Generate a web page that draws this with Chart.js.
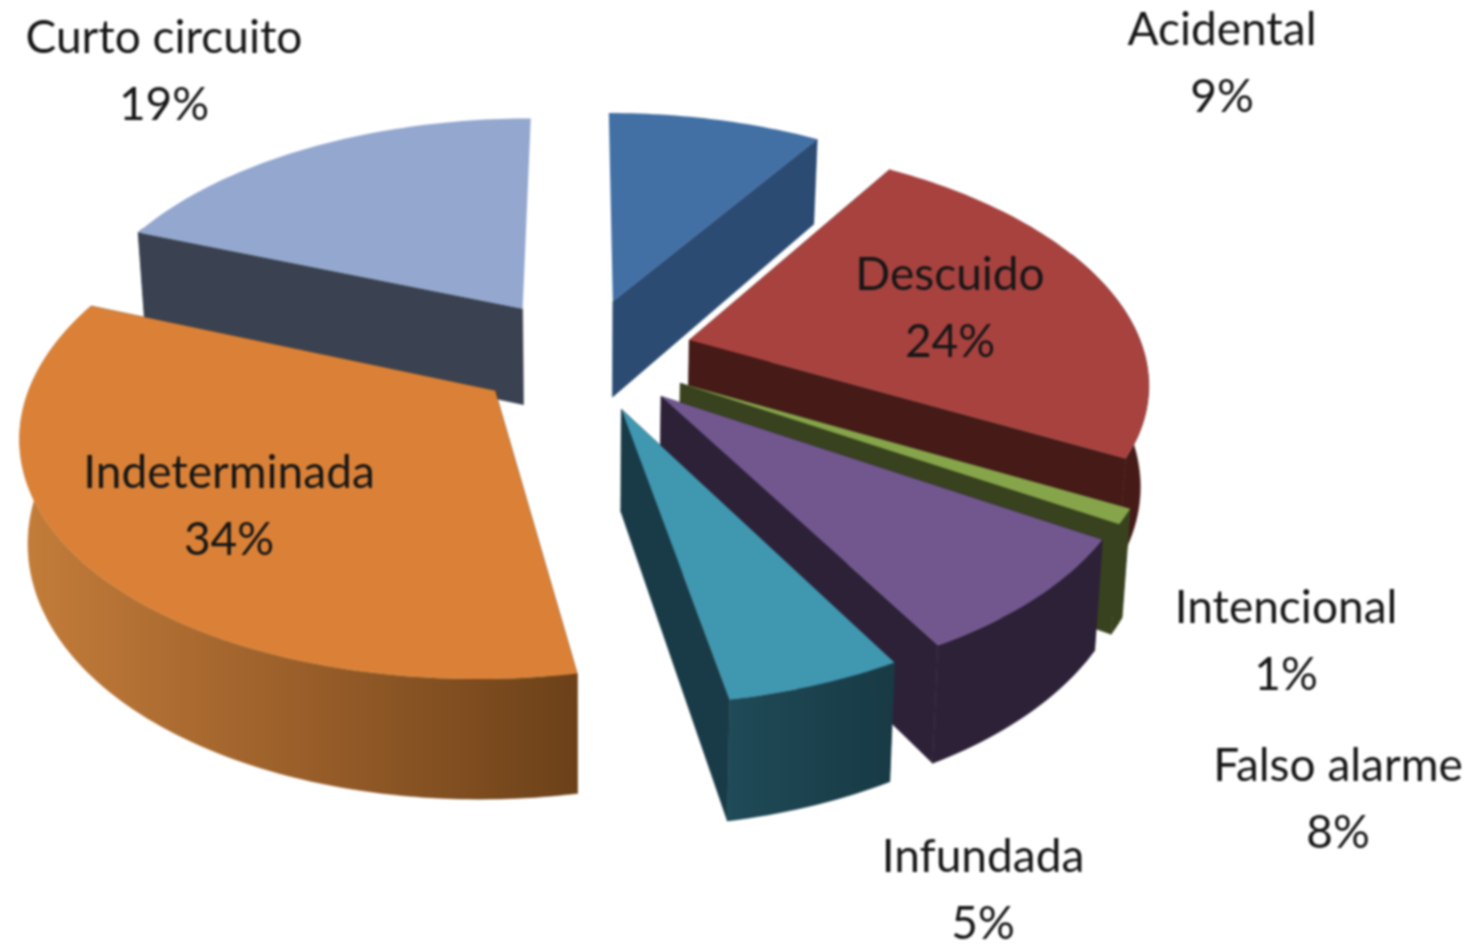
<!DOCTYPE html>
<html>
<head>
<meta charset="utf-8">
<style>
html,body{margin:0;padding:0;background:#fff;overflow:hidden}
canvas{display:block;filter:blur(0.8px)}
</style>
<script src="https://cdn.jsdelivr.net/npm/chart.js@4"></script>
</head>
<body>
<canvas id="c" width="1477" height="944"></canvas>
<script>
const categories = ['Acidental','Descuido','Intencional','Falso alarme','Infundada','Indeterminada','Curto circuito'];
const values = [9,24,1,8,5.15,33.85,19];
const topColors = ['#4270a5','#a8423f','#86a44a','#71578e','#4097b0','#da8137','#93a7cf'];
const sideColors = ['#2b4b73','#451a17','#38421f','#2d2138','#193b47','#6c4119','#3a4251'];
const outerGradients = [null,null,null,null,['#1f4a57','#183a45'],['#c47d3a','#9a5f2a','#6c4119'],null];
const labelX = [1222,950,1286,1338,983,229,164];
const labelY = [30,275,608,766,857,473,38];

const view = {cx:583, cy:354, a:455, b:232, px:0.16, py:0.1525, depth:99, shrink:0.985};
function project(X,Y,bottom){
  const s = 1/(1+view.py*Y), sx = 1/(1+view.px*Y);
  let x = view.cx + view.a*X*sx, y = view.cy - view.b*Y*s;
  if(bottom){ x = view.cx + (x-view.cx)*view.shrink; y += view.depth*s; }
  return {x,y};
}
function poly(ctx,list,color){
  ctx.fillStyle = color; ctx.strokeStyle = color; ctx.lineWidth = 0.5;
  ctx.beginPath();
  list.forEach((q,i)=> i ? ctx.lineTo(q.x,q.y) : ctx.moveTo(q.x,q.y));
  ctx.closePath(); ctx.fill(); ctx.stroke();
}
const pie3d = {
  id:'pie3d',
  beforeDatasetsDraw(chart){
    const ctx = chart.ctx;
    const arcs = chart.getDatasetMeta(0).data.map((arc,i)=>{
      const st = arc.startAngle+Math.PI/2, en = arc.endAngle+Math.PI/2;
      const mid = (st+en)/2, e = arc.options.offset/arc.outerRadius;
      return {i,st,en,mid,ax:e*Math.sin(mid),ay:e*Math.cos(mid)};
    });
    arcs.sort((u,v)=>Math.cos(v.mid)-Math.cos(u.mid));
    for(const s of arcs){
      const n = Math.max(4,Math.ceil((s.en-s.st)/0.02));
      const pts = [];
      for(let k=0;k<=n;k++){
        const t = s.st+(s.en-s.st)*k/n;
        pts.push({t,X:s.ax+Math.sin(t),Y:s.ay+Math.cos(t)});
      }
      let outer = sideColors[s.i];
      const g = outerGradients[s.i];
      const xs = pts.map(q=>project(q.X,q.Y,false).x);
      if(g){
        const lg = ctx.createLinearGradient(Math.min(...xs),0,Math.max(...xs),0);
        g.forEach((c,j)=>lg.addColorStop(j/(g.length-1),c));
        outer = lg;
      }
      for(const q of [pts[0],pts[n]]){
        if(Math.cos(q.t)>0.98) continue;
        poly(ctx,[project(s.ax,s.ay),project(q.X,q.Y),project(q.X,q.Y,true),project(s.ax,s.ay,true)],sideColors[s.i]);
      }
      const run = pts.filter(q=>Math.cos(q.t)<0.4);
      if(run.length>1){
        poly(ctx,[...run.map(q=>project(q.X,q.Y)),...run.slice().reverse().map(q=>project(q.X,q.Y,true))],outer);
      }
      ctx.beginPath();
      let o = project(s.ax,s.ay); ctx.moveTo(o.x,o.y);
      for(const q of pts){ o = project(q.X,q.Y); ctx.lineTo(o.x,o.y); }
      ctx.closePath();
      ctx.fillStyle = topColors[s.i]; ctx.fill();
    }
    ctx.save();
    ctx.fillStyle = '#161616'; ctx.textAlign='center'; ctx.textBaseline='middle';
    ctx.font = '46px Lato';
    categories.forEach((c,i)=>{
      ctx.fillText(c,labelX[i],labelY[i]);
      ctx.fillText(Math.round(values[i])+'%',labelX[i],labelY[i]+67);
    });
    ctx.restore();
    return false;
  }
};
new Chart(document.getElementById('c'),{
  type:'pie',
  data:{labels:categories,datasets:[{data:values,backgroundColor:topColors,borderWidth:0,offset:102.5,hoverOffset:0}]},
  options:{responsive:false,animation:false,events:[],rotation:0,
    plugins:{legend:{display:false},tooltip:{enabled:false}}},
  plugins:[pie3d]
});
</script>
</body>
</html>
